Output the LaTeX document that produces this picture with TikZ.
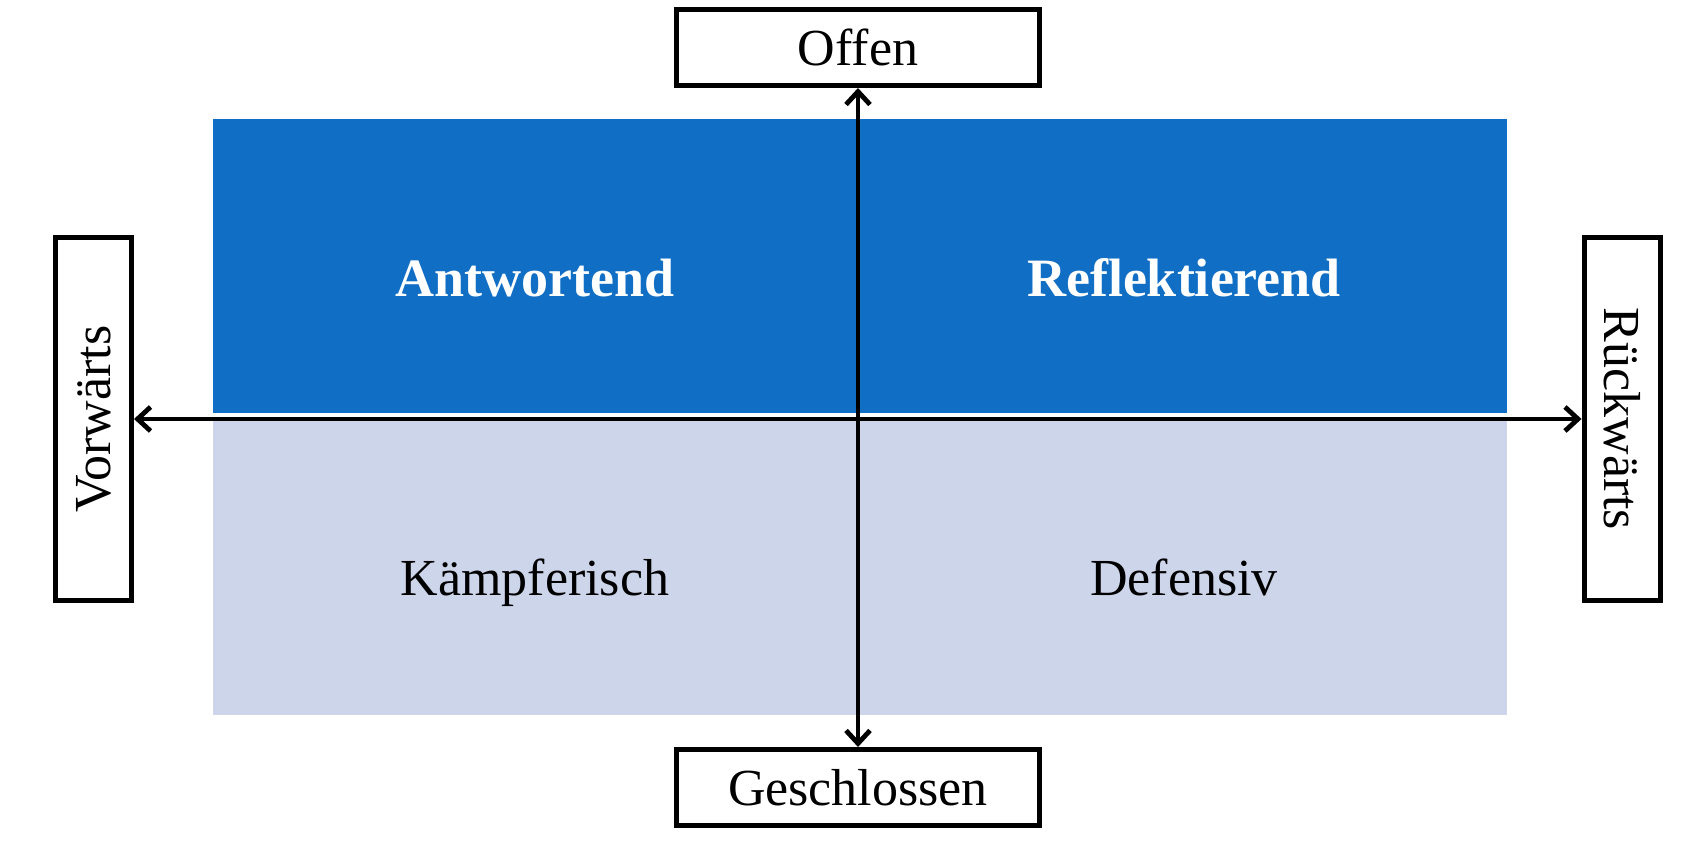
\documentclass[tikz,border=0pt]{standalone}
\usepackage{fontspec}
\setmainfont{Liberation Serif}
\usetikzlibrary{arrows.meta}
\definecolor{darkblue}{RGB}{16,110,196}
\definecolor{lightblue}{RGB}{205,213,234}
\begin{document}
\begin{tikzpicture}[x=0.5pt,y=-0.5pt,
  labelbox/.style={draw=black, line width=2.5pt, fill=white, inner sep=0pt,
    minimum width=181.5pt, minimum height=38pt, font=\fontsize{26}{30}\selectfont},
  axisline/.style={line width=2.4pt,
    {Straight Barb[length=6.5pt,width=12pt]}-{Straight Barb[length=6.5pt,width=12pt]}},
  quadtext/.style={anchor=base, inner sep=0pt, font=\fontsize{26}{30}\selectfont},
  quadbold/.style={quadtext, text=white, font=\fontsize{27}{30}\selectfont\bfseries}]
\useasboundingbox[fill=white] (0,0) rectangle (1700,850);
% quadrants
\fill[darkblue] (213,119) rectangle (1507,413);
\fill[lightblue] (213,421) rectangle (1507,715);
\node[quadbold] (ant) at (535,296) {Antwortend};
\node[quadbold] (ref) at (1184,296) {Reflektierend};
\node[quadtext] (kae) at (535,595) {Kämpferisch};
\node[quadtext] (def) at (1184,595) {Defensiv};
% label boxes
\node[labelbox] (offen) at (858,47.5) {Offen};
\node[labelbox] (gesch) at (858,787.5) {Geschlossen};
\node[labelbox, rotate=90] (vor) at (93.5,419) {Vorwärts};
\node[labelbox, rotate=-90] (rueck) at (1622,419) {Rückwärts};
% axes
\draw[axisline] (offen.south) -- (gesch.north);
\draw[axisline] (vor.south) -- (rueck.south);
\end{tikzpicture}
\end{document}
